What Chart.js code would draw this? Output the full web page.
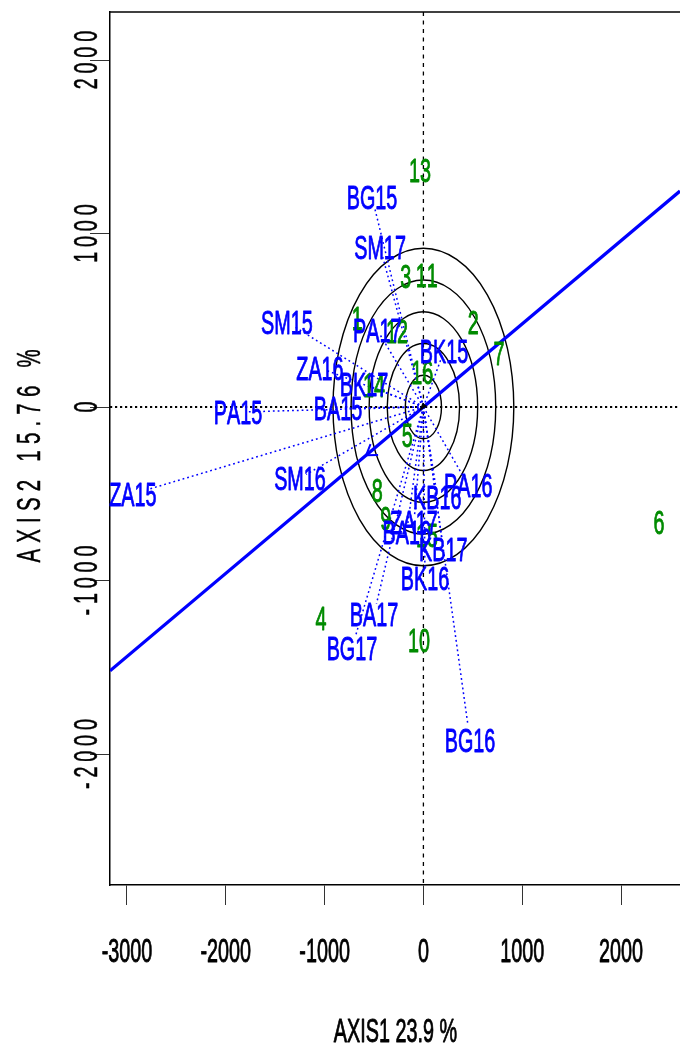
<!DOCTYPE html>
<html>
<head>
<meta charset="utf-8">
<title>GGE biplot</title>
<script src="https://cdn.jsdelivr.net/npm/chart.js@4.4.1/dist/chart.umd.min.js"></script>
<style>
  html, body { margin: 0; padding: 0; background: #ffffff; }
  #wrap { width: 680px; height: 1049px; }
  canvas { display: block; }
</style>
</head>
<body>
<div id="wrap"><canvas id="biplot" width="680" height="1049"></canvas></div>
<script>
// Genotype scores (AXIS1, AXIS2)
const genotypeLabels = ['1','2','3','4','5','6','7','8','9','10','11','12','13','14','15','16'];
const genotypeX = [-669, 505, -179, -1036, -163, 2385, 765, -467, -382, -45, 33, -267, -34, -500, 36, -11];
const genotypeY = [513, 490, 757, -1216, -165, -663, 311, -482, -640, -1343, 761, 440, 1366, 127, -738, 198];

// Environment scores (AXIS1, AXIS2)
const envLabels = ['BG15','SM17','SM15','ZA16','PA15','BA15','BK17','PA17','BK15','PA16',
                   'KB16','ZA17','BA16','KB17','BK16','BA17','BG17','BG16','SM16','ZA15'];
const envX = [-520, -439, -1381, -1047, -1877, -864, -601, -467, 209, 454,
              141, -95, -169, 201, 16, -500, -723, 472, -1249, -2940];
const envY = [1210, 922, 490, 225, -29, -6, 133, 444, 324, -450,
              -517, -661, -722, -818, -986, -1193, -1389, -1919, -409, -501];

// Average environment coordinate (defines the AEA line and its arrow)
const aeaPoint = [-580, -278];

// Concentric circle radii around the origin
const circleRadii = [183, 366, 549, 732, 915];

// Axis ticks, limits and titles
const xTicks = [-3000, -2000, -1000, 0, 1000, 2000];
const yTicks = [-2000, -1000, 0, 1000, 2000];
const X_LIMITS = [-3172, 2597];
const Y_LIMITS = [-2755, 2277];
const xTitle = 'AXIS1 23.9 %';
const yTitle = 'AXIS2 15.76 %';

// Environment vectors stop just short of their labels
const RAY_REACH = 0.95;

const BLUE = '#0000ff';
const GREEN = '#008b00';
const FONT = '"Liberation Sans", Arial, Helvetica, sans-serif';

// Draw condensed text centred on (x, y); optional rotation and extra letter spacing
function drawText(ctx, text, x, y, opt) {
  const o = Object.assign({ size: 33, sx: 0.6, color: '#000', rotate: 0, spacing: 0, weight: 0.9 }, opt || {});
  ctx.save();
  ctx.translate(x, y);
  if (o.rotate) ctx.rotate(o.rotate);
  ctx.scale(o.sx, 1);
  ctx.font = o.size + 'px ' + FONT;
  ctx.fillStyle = o.color;
  ctx.strokeStyle = o.color;
  ctx.lineWidth = o.weight;
  ctx.lineJoin = 'round';
  ctx.textBaseline = 'alphabetic';
  ctx.textAlign = 'left';
  const chars = Array.from(text);
  const widths = chars.map(c => ctx.measureText(c).width);
  const total = widths.reduce((a, b) => a + b, 0) + o.spacing * (chars.length - 1);
  let cx = -total / 2;
  const base = o.size * 0.358;
  chars.forEach((c, i) => {
    ctx.fillText(c, cx, base);
    if (o.weight > 0) ctx.strokeText(c, cx, base);
    cx += widths[i] + o.spacing;
  });
  ctx.restore();
}

const toPoints = (xs, ys) => xs.map((x, i) => ({ x: x, y: ys[i] }));

const rayDatasets = envLabels.map((name, i) => ({
  label: name + ' vector',
  data: [{ x: 0, y: 0 }, { x: envX[i] * RAY_REACH, y: envY[i] * RAY_REACH }],
  showLine: true,
  borderColor: BLUE,
  borderWidth: 1.5,
  borderDash: [1.8, 3],
  pointRadius: 0,
  fill: false
}));

const aeaSlope = aeaPoint[1] / aeaPoint[0];

const datasets = [
  ...rayDatasets,
  {
    label: 'AEA',
    data: [{ x: X_LIMITS[0], y: X_LIMITS[0] * aeaSlope }, { x: X_LIMITS[1], y: X_LIMITS[1] * aeaSlope }],
    showLine: true,
    borderColor: BLUE,
    borderWidth: 3.3,
    pointRadius: 0,
    fill: false
  },
  {
    label: 'Genotypes',
    data: toPoints(genotypeX, genotypeY),
    pointRadius: 0,
    textLabels: genotypeLabels,
    textColor: GREEN
  },
  {
    label: 'Environments',
    data: toPoints(envX, envY),
    pointRadius: 0,
    textLabels: envLabels,
    textColor: BLUE
  }
];

const biplotDecor = {
  id: 'biplotDecor',
  beforeDatasetsDraw(chart) {
    const { ctx, chartArea: a, scales: { x, y } } = chart;
    const x0 = x.getPixelForValue(0);
    const y0 = y.getPixelForValue(0);
    ctx.save();
    // reference axes through the origin
    ctx.strokeStyle = '#000';
    ctx.lineWidth = 1.3;
    ctx.setLineDash([4, 4.5]);
    ctx.beginPath();
    ctx.moveTo(x0, a.top);
    ctx.lineTo(x0, a.bottom);
    ctx.stroke();
    ctx.lineWidth = 1.9;
    ctx.setLineDash([2.2, 2.8]);
    ctx.beginPath();
    ctx.moveTo(a.left, y0);
    ctx.lineTo(a.right, y0);
    ctx.stroke();
    ctx.setLineDash([]);
    // concentric circles
    ctx.lineWidth = 1.4;
    circleRadii.forEach(r => {
      const rx = x.getPixelForValue(r) - x0;
      const ry = y0 - y.getPixelForValue(r);
      ctx.beginPath();
      ctx.ellipse(x0, y0, rx, ry, 0, 0, Math.PI * 2);
      ctx.stroke();
    });
    ctx.restore();
  },
  afterDatasetsDraw(chart) {
    const { ctx, chartArea: a, scales: { x, y } } = chart;
    const x0 = x.getPixelForValue(0);
    const y0 = y.getPixelForValue(0);
    ctx.save();
    // arrow head at the average environment
    const tx = x.getPixelForValue(aeaPoint[0]);
    const ty = y.getPixelForValue(aeaPoint[1]);
    const k = 0.7;
    const bx = (x0 - tx) / k, by = y0 - ty;
    const len = Math.hypot(bx, by);
    const ux = bx / len, uy = by / len;
    ctx.strokeStyle = BLUE;
    ctx.lineWidth = 2;
    ctx.beginPath();
    [Math.PI / 6, -Math.PI / 6].forEach(t => {
      const dx = (ux * Math.cos(t) - uy * Math.sin(t)) * k;
      const dy = ux * Math.sin(t) + uy * Math.cos(t);
      const n = Math.hypot(dx, dy);
      ctx.moveTo(tx, ty);
      ctx.lineTo(tx + dx / n * 12, ty + dy / n * 12);
    });
    ctx.stroke();
    // marker at the origin
    ctx.fillStyle = '#000';
    ctx.beginPath();
    ctx.moveTo(x0 - 4, y0 + 4);
    ctx.lineTo(x0 + 4, y0 - 1);
    ctx.lineTo(x0 - 1, y0 - 4);
    ctx.closePath();
    ctx.fill();
    ctx.restore();

    // point labels
    chart.data.datasets.forEach((ds, di) => {
      if (!ds.textLabels) return;
      const meta = chart.getDatasetMeta(di);
      meta.data.forEach((pt, i) => {
        drawText(ctx, ds.textLabels[i], pt.x, pt.y, { color: ds.textColor });
      });
    });

    // top edge of the frame
    ctx.save();
    ctx.strokeStyle = '#000';
    ctx.lineWidth = 1.5;
    ctx.beginPath();
    ctx.moveTo(a.left, a.top);
    ctx.lineTo(a.right, a.top);
    ctx.stroke();
    ctx.restore();
  },
  afterDraw(chart) {
    const { ctx, scales: { x, y } } = chart;
    xTicks.forEach(v => drawText(ctx, String(v), x.getPixelForValue(v), 950, { sx: 0.6 }));
    yTicks.forEach(v => drawText(ctx, String(v), 85, y.getPixelForValue(v),
      { sx: 0.6, spacing: 8, rotate: -Math.PI / 2, weight: 0.5 }));
    drawText(ctx, xTitle, (x.getPixelForValue(-1000) + x.getPixelForValue(1000)) / 2 - 28, 1030, { sx: 0.6 });
    drawText(ctx, yTitle, 28, 456, { sx: 0.62, spacing: 10, rotate: -Math.PI / 2, weight: 0.5 });
  }
};

new Chart(document.getElementById('biplot'), {
  type: 'scatter',
  data: { datasets: datasets },
  options: {
    responsive: false,
    animation: false,
    devicePixelRatio: 1,
    layout: { padding: { top: 12, right: 0, bottom: 0, left: 0 } },
    plugins: { legend: { display: false }, tooltip: { enabled: false } },
    scales: {
      x: {
        type: 'linear',
        min: X_LIMITS[0],
        max: X_LIMITS[1],
        afterBuildTicks: s => { s.ticks = xTicks.map(v => ({ value: v })); },
        afterFit: s => { s.height = 164; },
        ticks: { display: false },
        grid: { drawOnChartArea: false, drawTicks: true, tickLength: 20, color: '#333', lineWidth: 1 },
        border: { display: true, color: '#000', width: 1.5 }
      },
      y: {
        type: 'linear',
        min: Y_LIMITS[0],
        max: Y_LIMITS[1],
        afterBuildTicks: s => { s.ticks = yTicks.map(v => ({ value: v })); },
        afterFit: s => { s.width = 110; },
        ticks: { display: false },
        grid: { drawOnChartArea: false, drawTicks: true, tickLength: 20, color: '#333', lineWidth: 1 },
        border: { display: true, color: '#000', width: 1.5 }
      }
    }
  },
  plugins: [biplotDecor]
});
</script>
</body>
</html>
